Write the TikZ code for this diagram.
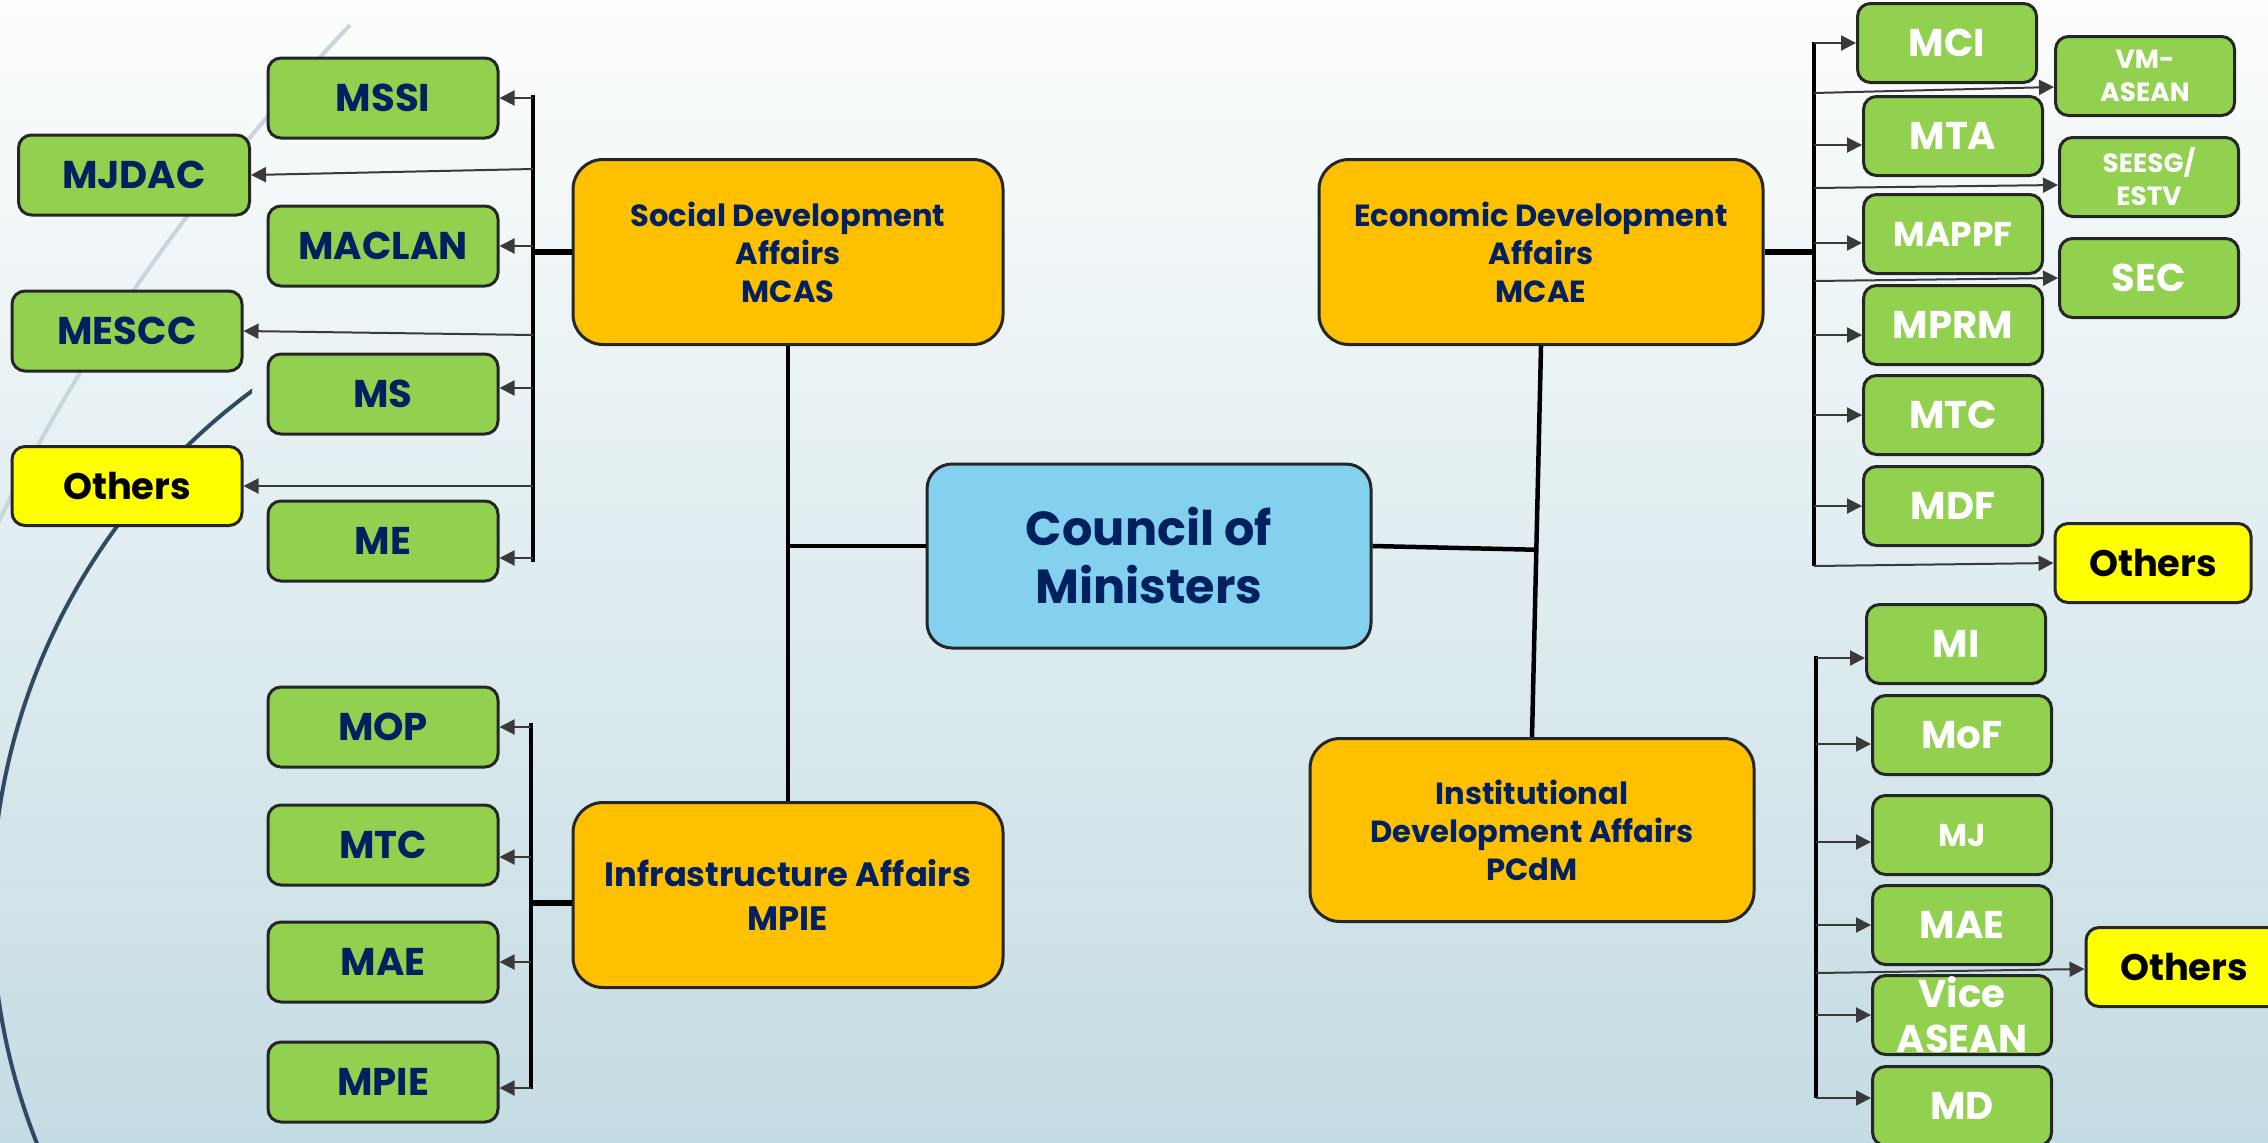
\documentclass[tikz,border=0pt]{standalone}
\usepackage{fontspec}
\setmainfont{Poppins}
\usetikzlibrary{arrows.meta,calc}

\definecolor{navy}{HTML}{002060}
\definecolor{mingreen}{HTML}{92D050}
\definecolor{affairorange}{HTML}{FFC000}
\definecolor{councilblue}{HTML}{83D1EF}
\definecolor{othersyellow}{HTML}{FFFF00}
\definecolor{boxline}{HTML}{262626}
\definecolor{arrowgray}{HTML}{3A3A3A}
\definecolor{bgtop}{HTML}{FCFDFD}
\definecolor{bgbottom}{HTML}{C4DCE3}
\definecolor{arcdark}{HTML}{2F4B63}
\definecolor{arclight}{HTML}{C8D5DC}

\tikzset{
  box/.style={draw=boxline, line width=0.3mm, align=center, inner sep=0pt},
  council/.style={box, fill=councilblue, rounded corners=2.5mm, minimum width=44.4mm, minimum height=18.4mm, text=navy, font=\bfseries\fontsize{13.6}{16.5}\selectfont},
  affair/.style={box, fill=affairorange, rounded corners=3mm, minimum width=43mm, minimum height=18.5mm, text=navy, font=\bfseries\fontsize{8.7}{10.8}\selectfont},
  lmin/.style={box, fill=mingreen, rounded corners=1.3mm, minimum width=23mm, minimum height=8mm, text=navy, font=\bfseries\fontsize{11}{13}\selectfont},
  rmin/.style={lmin, minimum width=17.9mm, minimum height=7.9mm, text=white},
  others/.style={box, fill=othersyellow, rounded corners=1.3mm, minimum width=23mm, minimum height=7.9mm, text=black, font=\bfseries\fontsize{10.5}{12}\selectfont},
  bus/.style={black, line width=0.45mm},
  feed/.style={black, line width=0.6mm},
  link/.style={black, line width=0.45mm},
  arr/.style={draw=arrowgray, line width=0.2mm, -{Triangle[length=1.5mm,width=1.5mm]}}
}

\begin{document}
\begin{tikzpicture}[x=0.1mm,y=-0.1mm]
\useasboundingbox (0,0) rectangle (2268,1142);
\clip (0,0) rectangle (2268,1142);
\shade[top color=bgtop, bottom color=bgbottom] (0,0) rectangle (2268,1142);

% side arcs
\begin{scope}
  \clip (0,0) rectangle (252,1142);
  \draw[arcdark, line width=0.4mm] (634,907) circle[radius=642];
\end{scope}
\draw[arclight, line width=0.4mm] (350,25) .. controls (217,166) and (87,333) .. (-10,540);

% centre
\node[council] (council) at (1149,556) {Council of\\Ministers};
\node[affair] (social) at (788,252) {Social Development\\Affairs\\MCAS};
\node[affair, minimum width=44.4mm] (econ) at (1541,252) {Economic Development\\Affairs\\MCAE};
\node[affair, font=\bfseries\fontsize{9.6}{12.5}\selectfont] (infra) at (788,895) {Infrastructure Affairs\\MPIE};
\node[affair, minimum width=44.4mm, minimum height=18.3mm] (inst) at (1532,830) {Institutional\\Development Affairs\\PCdM};

% social ministries
\node[lmin] (mssi) at (383,98) {MSSI};
\node[lmin] (maclan) at (383,246) {MACLAN};
\node[lmin] (ms) at (383,394) {MS};
\node[lmin] (me) at (383,541) {ME};
\node[lmin, minimum width=23.1mm] (mjdac) at (134,175) {MJDAC};
\node[lmin] (mescc) at (127,331) {MESCC};
\node[others] (othersL) at (127,486) {Others};

% infrastructure ministries
\node[lmin] (mop) at (383,727) {MOP};
\node[lmin] (mtcL) at (383,845) {MTC};
\node[lmin] (maeL) at (383,962) {MAE};
\node[lmin] (mpieL) at (383,1082) {MPIE};

% economic ministries
\node[rmin] (mci) at (1947,43) {MCI};
\node[rmin, font=\bfseries\fontsize{7.5}{9.4}\selectfont] (vmasean) at (2145,76) {VM-\\ASEAN};
\node[rmin] (mta) at (1953,136) {MTA};
\node[rmin, font=\bfseries\fontsize{7.5}{9.4}\selectfont] (seesg) at (2149,177) {SEESG/\\ESTV};
\node[rmin, font=\bfseries\fontsize{9.8}{11}\selectfont] (mappf) at (1953,234) {MAPPF};
\node[rmin] (sec) at (2149,278) {SEC};
\node[rmin] (mprm) at (1953,325) {MPRM};
\node[rmin] (mtcR) at (1953,415) {MTC};
\node[rmin] (mdf) at (1953,506) {MDF};
\node[others, minimum width=19.6mm] (othersE) at (2153,563) {Others};

% institutional ministries
\node[rmin] (mi) at (1956,644) {MI};
\node[rmin] (mof) at (1962,735) {MoF};
\node[rmin, font=\bfseries\fontsize{9}{11}\selectfont] (mj) at (1962,835) {MJ};
\node[rmin] (maeR) at (1962,925) {MAE};
\node[others, minimum width=19.6mm] (othersI) at (2184,967) {Others};
\node[rmin, font=\bfseries\fontsize{11}{12.8}\selectfont] (vice) at (1962,1015) {Vice\\ASEAN};
\node[rmin] (md) at (1962,1106) {MD};

% centre links
\coordinate (cw) at ($(council.west)+(0,-10)$);
\coordinate (ce) at ($(council.east)+(0,-10)$);
\draw[link] (social.south) -- (infra.north);
\draw[link] (econ.south) -- (inst.north);
\draw[link] (cw) -- ($(social.south)!(cw)!(infra.north)$);
\draw[link] (ce) -- ($(econ.south)!(ce)!(inst.north)$);

% social bus
\coordinate (sbusT) at (533,95);
\coordinate (sbusB) at (533,562);
\draw[bus] (sbusT) -- (sbusB);
\draw[feed] (social.west) -- (sbusT |- social.west);
\draw[arr] (sbusT |- mssi.east) -- (mssi.east);
\draw[arr] ($(sbusT |- mjdac.east)+(0,-6)$) -- (mjdac.east);
\draw[arr] (sbusT |- maclan.east) -- (maclan.east);
\draw[arr] ($(sbusT |- mescc.east)+(0,4)$) -- (mescc.east);
\draw[arr] ($(sbusT |- ms.east)+(0,-6)$) -- ($(ms.east)+(0,-6)$);
\draw[arr] (sbusT |- othersL.east) -- (othersL.east);
\draw[arr] ($(sbusT |- me.east)+(0,17)$) -- ($(me.east)+(0,17)$);

% infrastructure bus
\coordinate (ibusT) at (531,723);
\coordinate (ibusB) at (531,1089);
\draw[bus] (ibusT) -- (ibusB);
\draw[feed] ($(infra.west)+(0,8)$) -- ($(ibusT |- infra.west)+(0,8)$);
\draw[arr] (ibusT |- mop.east) -- (mop.east);
\draw[arr] ($(ibusT |- mtcL.east)+(0,12)$) -- ($(mtcL.east)+(0,12)$);
\draw[arr] (ibusT |- maeL.east) -- (maeL.east);
\draw[arr] ($(ibusT |- mpieL.east)+(0,6)$) -- ($(mpieL.east)+(0,6)$);

% economic bus
\coordinate (ebusT) at (1814,42);
\coordinate (ebusB) at (1814,566);
\draw[bus] (ebusT) -- (ebusB);
\draw[feed] (econ.east) -- (ebusT |- econ.east);
\draw[arr] (ebusT |- mci.west) -- (mci.west);
\draw[arr] ($(ebusT |- vmasean.west)+(0,17)$) -- ($(vmasean.west)+(0,11)$);
\draw[arr] ($(ebusT |- mta.west)+(0,9)$) -- ($(mta.west)+(0,9)$);
\draw[arr] ($(ebusT |- seesg.west)+(0,11)$) -- ($(seesg.west)+(0,8)$);
\draw[arr] ($(ebusT |- mappf.west)+(0,9)$) -- ($(mappf.west)+(0,9)$);
\draw[arr] ($(ebusT |- sec.west)+(0,3)$) -- (sec.west);
\draw[arr] ($(ebusT |- mprm.west)+(0,10)$) -- ($(mprm.west)+(0,10)$);
\draw[arr] (ebusT |- mtcR.west) -- (mtcR.west);
\draw[arr] (ebusT |- mdf.west) -- (mdf.west);
\draw[arr] ($(ebusT |- othersE.west)+(0,3)$) -- (othersE.west);

% institutional bus
\coordinate (pbusT) at (1816,656);
\coordinate (pbusB) at (1816,1098);
\draw[bus] (pbusT) -- (pbusB);
\draw[arr] ($(pbusT |- mi.west)+(0,14)$) -- ($(mi.west)+(0,14)$);
\draw[arr] ($(pbusT |- mof.west)+(0,9)$) -- ($(mof.west)+(0,9)$);
\draw[arr] ($(pbusT |- mj.west)+(0,7)$) -- ($(mj.west)+(0,7)$);
\draw[arr] (pbusT |- maeR.west) -- (maeR.west);
\draw[arr] ($(pbusT |- othersI.west)+(0,6)$) -- ($(othersI.west)+(0,2)$);
\draw[arr] (pbusT |- vice.west) -- (vice.west);
\draw[arr] ($(pbusT |- md.west)+(0,-8)$) -- ($(md.west)+(0,-8)$);
\end{tikzpicture}
\end{document}
